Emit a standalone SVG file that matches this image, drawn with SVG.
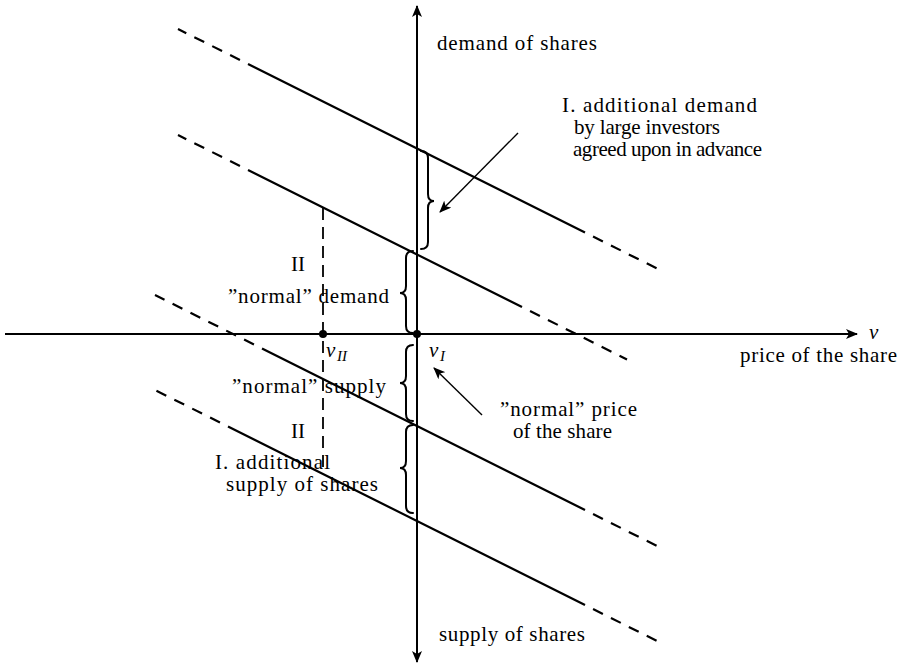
<svg xmlns="http://www.w3.org/2000/svg" width="903" height="667" viewBox="0 0 903 667">
<style>
text{font-family:"Liberation Serif","Times New Roman",serif;font-size:21px;fill:#000}
.it{font-style:italic}
.sub{font-style:italic;font-size:15px}
.ax{stroke:#000;stroke-width:2;fill:none}
.ln{stroke:#000;stroke-width:2.2;fill:none}
.dl{stroke:#000;stroke-width:2.2;fill:none;stroke-dasharray:11 9;stroke-dashoffset:11}
.vd{stroke:#000;stroke-width:1.8;fill:none;stroke-dasharray:12 7}
.br{stroke:#000;stroke-width:2;fill:none;stroke-linecap:round}
.ar{stroke:#000;stroke-width:1.4;fill:none}
</style>
<defs>
<marker id="ah" viewBox="0 0 12 10" refX="11" refY="5" markerWidth="12" markerHeight="10" markerUnits="userSpaceOnUse" orient="auto">
<path d="M0,0 L12,5 L0,10 L3,5 Z" fill="#000"/>
</marker>
<marker id="ah2" viewBox="0 0 12 10" refX="11" refY="5" markerWidth="12" markerHeight="10" markerUnits="userSpaceOnUse" orient="auto-start-reverse">
<path d="M0,0 L12,5 L0,10 L3,5 Z" fill="#000"/>
</marker>
</defs>
<g id="axes">
<line class="ax" x1="417" y1="662" x2="417" y2="6" marker-start="url(#ah2)" marker-end="url(#ah)"/>
<line class="ax" x1="5" y1="334" x2="857" y2="334" marker-end="url(#ah)"/>
</g>
<g id="connectors">
<path class="dl" d="M248,64 L178,29"/>
<path class="ln" d="M248,64 L585,232.5"/>
<path class="dl" d="M585,232.5 L657,268.5"/>
<path class="dl" d="M248,170 L178,135"/>
<path class="ln" d="M248,170 L522,307"/>
<path class="dl" d="M522,307 L627,359.5"/>
<path class="dl" d="M262,348.5 L155,295"/>
<path class="ln" d="M262,348.5 L585,510"/>
<path class="dl" d="M585,510 L657,546"/>
<path class="dl" d="M228,426.5 L155,390"/>
<path class="ln" d="M228,426.5 L585,605"/>
<path class="dl" d="M585,605 L657,641"/>
<path class="vd" d="M323,208 L323,474"/>
<line class="ar" x1="518" y1="133" x2="440" y2="212" marker-end="url(#ah)"/>
<line class="ar" x1="482" y1="415" x2="434" y2="368" marker-end="url(#ah)"/>
</g>
<g id="braces">
<path class="br" d="M421,151 Q428,151 428,158 L428,194 Q428,201 434,201 Q428,201 428,208 L428,242 Q428,249 421,249"/>
<path class="br" d="M413,251 Q406,251 406,258 L406,286 Q406,293 400,293 Q406,293 406,300 L406,326 Q406,333 413,333"/>
<path class="br" d="M413,345 Q406,345 406,352 L406,376 Q406,383 400,383 Q406,383 406,390 L406,414 Q406,421 413,421"/>
<path class="br" d="M413,425 Q406,425 406,432 L406,461 Q406,468 400,468 Q406,468 406,475 L406,506 Q406,513 413,513"/>
</g>
<g id="points">
<circle cx="323" cy="334" r="4"/>
<circle cx="417" cy="334" r="4"/>
</g>
<g id="labels">
<text x="437" y="50" textLength="160" lengthAdjust="spacing">demand of shares</text>
<text x="562" y="112" textLength="195" lengthAdjust="spacing">I. additional demand</text>
<text x="574" y="134" textLength="146" lengthAdjust="spacing">by large investors</text>
<text x="573" y="156" textLength="189" lengthAdjust="spacing">agreed upon in advance</text>
<text x="291" y="271">II</text>
<text x="228" y="303" textLength="161" lengthAdjust="spacing">”normal” demand</text>
<text class="it" x="869" y="339">v</text>
<text x="740" y="362" textLength="157" lengthAdjust="spacing">price of the share</text>
<text class="it" x="326" y="357">v</text><text class="sub" x="337" y="361">II</text>
<text class="it" x="429" y="357">v</text><text class="sub" x="440" y="361">I</text>
<text x="232" y="393" textLength="154" lengthAdjust="spacing">”normal” supply</text>
<text x="500" y="416" textLength="137" lengthAdjust="spacing">”normal” price</text>
<text x="513" y="438" textLength="99" lengthAdjust="spacing">of the share</text>
<text x="291" y="438">II</text>
<text x="215" y="469" textLength="115" lengthAdjust="spacing">I. additional</text>
<text x="226" y="491" textLength="152" lengthAdjust="spacing">supply of shares</text>
<text x="439" y="641" textLength="146" lengthAdjust="spacing">supply of shares</text>
</g>
</svg>
